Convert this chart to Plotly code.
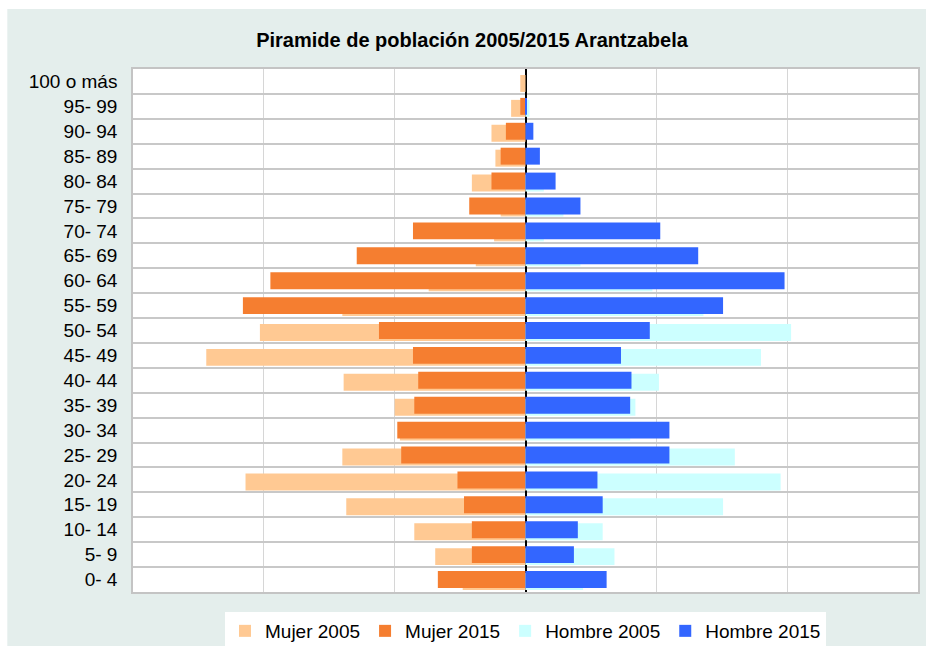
import plotly.graph_objects as go

categorias = ["0- 4", "5- 9", "10- 14", "15- 19", "20- 24", "25- 29", "30- 34",
              "35- 39", "40- 44", "45- 49", "50- 54", "55- 59", "60- 64", "65- 69",
              "70- 74", "75- 79", "80- 84", "85- 89", "90- 94", "95- 99", "100 o más"]

mujer_2005 = [48, 69, 85, 137, 214, 140, 96, 100, 139, 244, 203, 140, 74, 38, 24, 19, 41, 23, 26, 11, 4]
mujer_2015 = [67, 41, 41, 47, 52, 95, 98, 85, 82, 86, 112, 216, 195, 129, 86, 43, 26, 19, 15, 4, 0]
hombre_2005 = [44, 68, 59, 151, 195, 160, 80, 84, 102, 180, 203, 136, 97, 42, 14, 29, 14, 0, 0, 3, 0]
hombre_2015 = [62, 37, 40, 59, 55, 110, 110, 80, 81, 73, 95, 151, 198, 132, 103, 42, 23, 11, 6, 1, 0]

series = [
    ("Mujer 2005", [-v for v in mujer_2005], "#FFC993", -0.42),
    ("Mujer 2015", [-v for v in mujer_2015], "#F57E30", -0.34),
    ("Hombre 2005", hombre_2005, "#CCFFFF", -0.42),
    ("Hombre 2015", hombre_2015, "#3366FF", -0.34),
]

fig = go.Figure()
for nombre, valores, color, off in series:
    fig.add_trace(go.Bar(
        y=categorias, x=valores, name=nombre, orientation="h",
        marker=dict(color=color, line=dict(width=0)),
        width=0.68, offset=off, hoverinfo="x+y+name",
    ))

W, H = 926, 646
L, R, T, B = 133, 6, 69, 54
pw, ph = W - L - R, H - T - B

def px_x(X):
    return (X - L) / pw

def px_y(Y):
    return (H - B - Y) / ph

fig.update_layout(
    width=W, height=H,
    margin=dict(l=L, r=R, t=T, b=B),
    barmode="overlay",
    paper_bgcolor="#E4EEEC",
    plot_bgcolor="#FFFFFF",
    font=dict(family="Liberation Sans, Arial, sans-serif", color="#000000"),
    title=dict(text="<b>Piramide de población 2005/2015 Arantzabela</b>",
               x=472 / W, xanchor="center", y=1 - 40 / H, yanchor="middle",
               font=dict(size=20, color="#000000")),
    xaxis=dict(range=[-300, 300], dtick=100, showticklabels=False, ticks="",
               showgrid=True, gridcolor="#D6D6D6", gridwidth=1,
               zeroline=True, zerolinecolor="#000000", zerolinewidth=1.5,
               showline=True, linecolor="#C4C4C4", linewidth=1.5, mirror=True,
               fixedrange=True),
    yaxis=dict(type="category", categoryorder="array", categoryarray=categorias,
               tickson="boundaries", ticks="", showgrid=True, gridcolor="#C8C8C8",
               gridwidth=1.5, showline=True, linecolor="#C4C4C4", linewidth=1.5,
               mirror=True, tickfont=dict(size=19, color="#000000"),
               ticklabelstandoff=10, fixedrange=True),
    legend=dict(orientation="h", x=0.5, xanchor="center",
                yref="container", y=(H - 612) / H, yanchor="top",
                bgcolor="#FFFFFF", borderwidth=0, font=dict(size=19, color="#000000"),
                itemwidth=30, traceorder="normal"),
    shapes=[
        dict(type="rect", xref="paper", yref="paper", x0=px_x(-10), x1=px_x(W + 10),
             y0=px_y(9), y1=px_y(-10), fillcolor="#FFFFFF", line=dict(width=0), layer="below"),
        dict(type="rect", xref="paper", yref="paper", x0=px_x(-10), x1=px_x(7),
             y0=px_y(H + 10), y1=px_y(-10), fillcolor="#FFFFFF", line=dict(width=0), layer="below"),
    ],
    showlegend=True,
)

fig.write_html("out.html", config={"displayModeBar": False},
               post_script="document.body.style.margin='0';")
